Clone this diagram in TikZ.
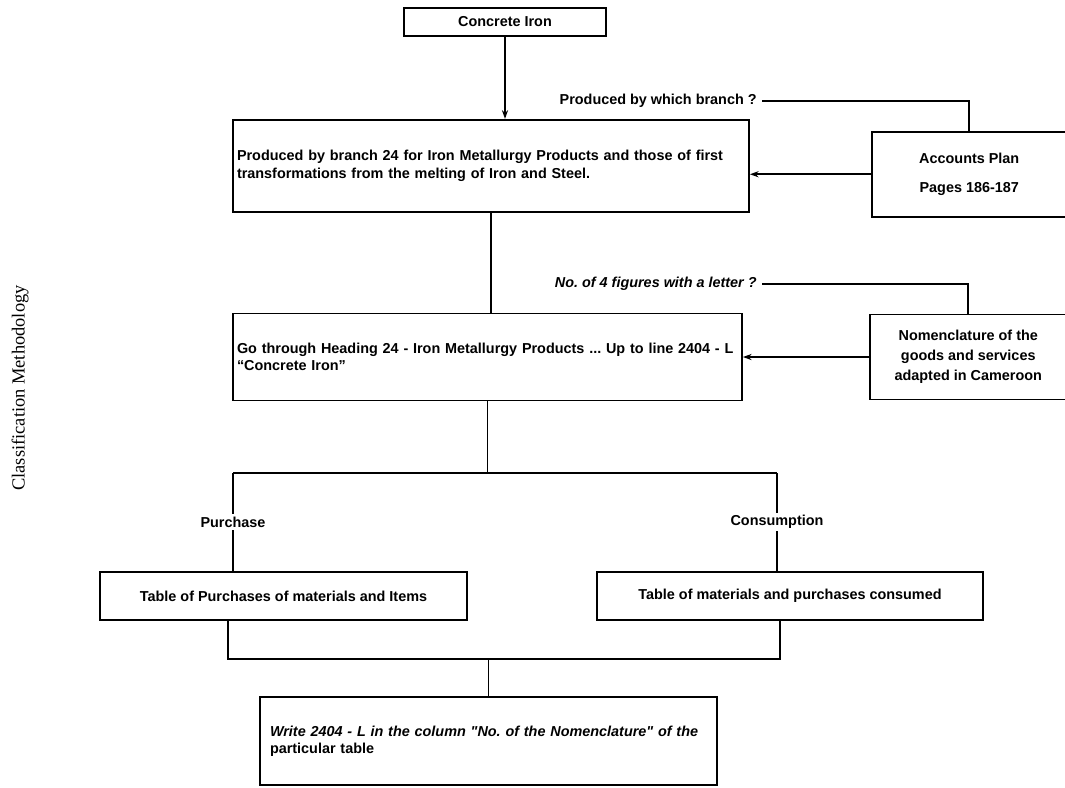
\documentclass[tikz,border=0pt]{standalone}
\usepackage{fontspec}
\setmainfont{Liberation Serif}
\setsansfont{Liberation Sans}
\usetikzlibrary{arrows.meta, positioning}
\frenchspacing

\begin{document}
\begin{tikzpicture}[
        node distance=0.5cm,
        box/.style={rectangle, draw=black, line width=1pt, align=center, font=\sffamily\bfseries\fontsize{8.2}{9.8}\selectfont},
        wide/.style={box, align=left, inner xsep=0.08cm},
        qlabel/.style={font=\sffamily\bfseries\fontsize{8.2}{9.8}\selectfont, inner sep=0.1cm},
        branch/.style={qlabel, fill=white, inner sep=0.05cm},
        arrow/.style={-{Stealth[length=5pt, width=3.5pt]}, line width=1pt},
        link/.style={line width=1pt}
    ]
        \useasboundingbox (0,0) rectangle (21.3,-15.76);
        \fill[white] (0,0) rectangle (21.3,-15.76);

        % Main flow
        \node[box, minimum width=4.04cm, minimum height=0.56cm] (concrete) at (10.1,-0.44) {Concrete Iron};
        \node[wide, text width=10.16cm, minimum height=1.84cm, below=1.64cm of concrete, xshift=-0.28cm] (branch24) {Produced by branch 24 for Iron Metallurgy Products and those of first\\transformations from the melting of Iron and Steel.};
        \node[wide, text width=10.02cm, minimum height=1.74cm, below=2cm of branch24.south west, anchor=north west] (heading) {Go through Heading 24 - Iron Metallurgy Products ... Up to line 2404 - L\\``Concrete Iron''};

        % Reference books
        \node[box, minimum width=3.9cm, minimum height=1.7cm, right=2.42cm of branch24, yshift=-0.17cm] (accounts) {Accounts Plan\\[0.25cm]Pages 186-187};
        \node[box, minimum width=3.94cm, minimum height=1.7cm, right=2.52cm of heading, font=\sffamily\bfseries\fontsize{8.2}{11.4}\selectfont] (nomen) {Nomenclature of the\\goods and services\\adapted in Cameroon};

        % Questions
        \node[qlabel, anchor=east] (askbranch) at (15.24,-2.02) {Produced by which branch ?};
        \node[qlabel, anchor=east, font=\sffamily\bfseries\itshape\fontsize{8.2}{9.8}\selectfont] (askfig) at (15.24,-5.68) {No. of 4 figures with a letter ?};

        % Tables
        \node[box, minimum width=7.34cm, minimum height=0.96cm] (purchases) at (5.67,-11.92) {Table of Purchases of materials and Items};
        \node[box, minimum width=7.72cm, minimum height=0.96cm] (consumed) at (15.8,-11.92) {Table of materials and purchases consumed};

        % Output
        \node[wide, text width=8.74cm, inner xsep=0.2cm, minimum height=1.76cm] (write) at (9.77,-14.82) {\itshape Write 2404 - L in the column \textquotedbl No. of the Nomenclature\textquotedbl{} of the\\\upshape particular table};

        \node[rotate=90, font=\rmfamily\fontsize{10.5}{12}\selectfont] (side) at (0.4,-7.76) {Classification Methodology};

        \coordinate (splitL) at (4.66,-9.46);
        \coordinate (splitR) at (15.54,-9.46);
        \coordinate (joinL) at (4.56,-13.18);
        \coordinate (joinR) at (15.6,-13.18);

        \draw[arrow] (concrete.south) -- (concrete.south |- branch24.north);
        \draw[link] (branch24.south) -- (branch24.south |- heading.north);
        \draw[link] (accounts.north) |- (askbranch.east);
        \draw[arrow] (accounts.west) -- (accounts.west -| branch24.east);
        \draw[link] (nomen.north) |- (askfig.east);
        \draw[arrow] (nomen.west) -- (nomen.west -| heading.east);
        \draw[link] (heading.south) -- (heading.south |- splitL);
        \draw[link] (splitL) -- (splitR);
        \draw[link] (splitL) -- node[branch] {Purchase} (splitL |- purchases.north);
        \draw[link] (splitR) -- node[branch] {Consumption} (splitR |- consumed.north);
        \draw[link] (joinL |- purchases.south) -- (joinL) -- (joinR) -- (joinR |- consumed.south);
        \draw[link] (write.north |- joinL) -- (write.north);
    \end{tikzpicture}
\end{document}
